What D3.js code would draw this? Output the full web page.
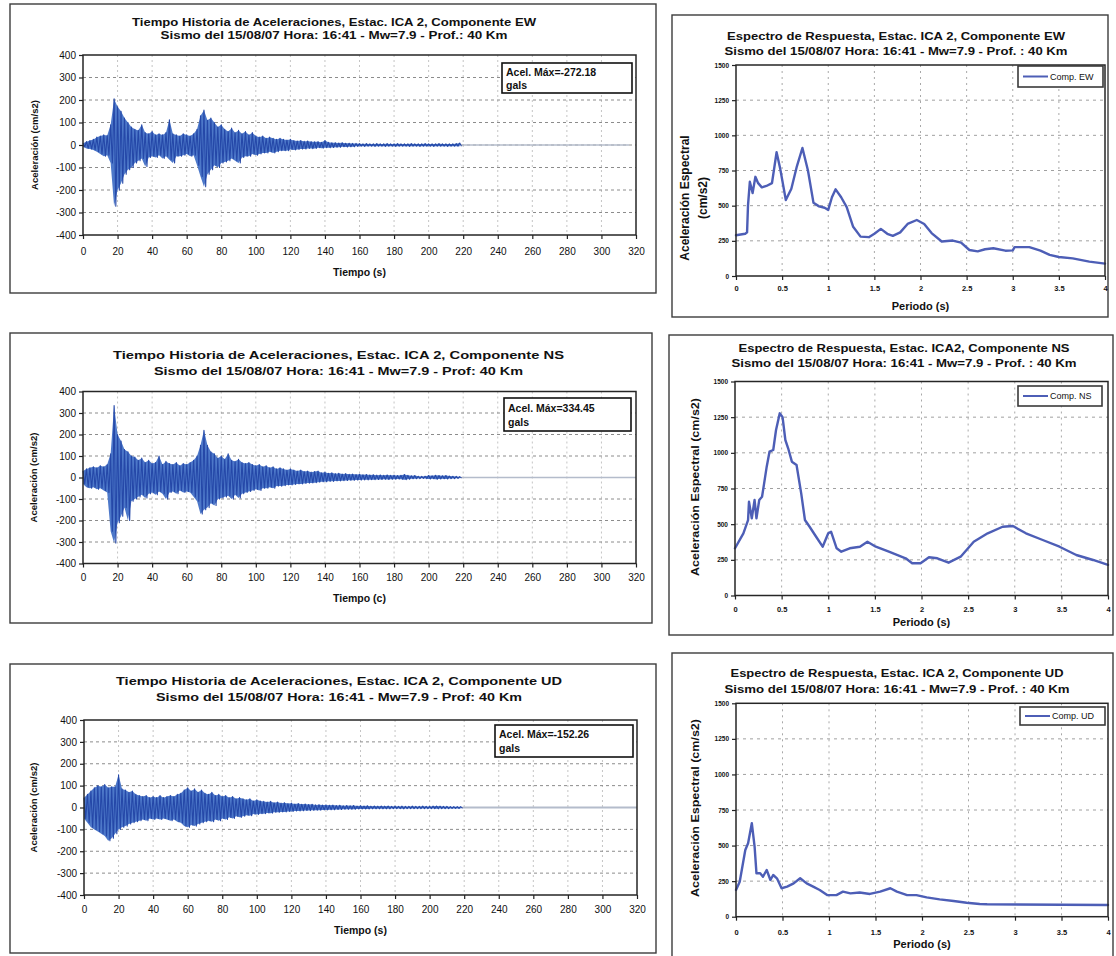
<!DOCTYPE html>
<html>
<head>
<meta charset="utf-8">
<script src="https://cdn.jsdelivr.net/npm/d3@7"></script>
<style>
  body { margin: 0; background: #fff; }
  svg { display: block; }
</style>
</head>
<body>
<svg id="chart" width="1116" height="956"></svg>
<script>
// ---------------- data ----------------
const components = ["EW", "NS", "UD"];

const thTitles = [
  "Tiempo Historia de Aceleraciones, Estac. ICA 2, Componente EW",
  "Tiempo Historia de Aceleraciones, Estac. ICA 2, Componente NS",
  "Tiempo Historia de Aceleraciones, Estac. ICA 2, Componente UD"
];
const thSubtitles = [
  "Sismo del 15/08/07 Hora: 16:41 - Mw=7.9 - Prof.: 40 Km",
  "Sismo del 15/08/07 Hora: 16:41 - Mw=7.9 - Prof: 40 Km",
  "Sismo del 15/08/07 Hora: 16:41 - Mw=7.9 - Prof: 40 Km"
];
const spTitles = [
  "Espectro de Respuesta, Estac. ICA 2, Componente EW",
  "Espectro de Respuesta, Estac. ICA2, Componente NS",
  "Espectro de Respuesta, Estac. ICA 2, Componente UD"
];
const spSubtitles = [
  "Sismo del 15/08/07 Hora: 16:41 - Mw=7.9 - Prof. : 40 Km",
  "Sismo del 15/08/07 Hora: 16:41 - Mw=7.9 - Prof. : 40 Km",
  "Sismo del 15/08/07 Hora: 16:41 - Mw=7.9 - Prof. : 40 Km"
];
const timeAxisTitles = ["Tiempo (s)", "Tiempo (c)", "Tiempo (s)"];
const accelAxisTitle = "Aceleración (cm/s2)";
const periodAxisTitle = "Periodo (s)";
const spectralAxisTitle = ["Aceleración Espectral", "(cm/s2)"];
const legendLabels = ["Comp. EW", "Comp. NS", "Comp. UD"];

// tick values
const timeTicks = [0, 20, 40, 60, 80, 100, 120, 140, 160, 180, 200, 220, 240, 260, 280, 300, 320];
const accelTicks = [-400, -300, -200, -100, 0, 100, 200, 300, 400];
const periodTicks = [0, 0.5, 1, 1.5, 2, 2.5, 3, 3.5, 4];
const spectralTicks = [0, 250, 500, 750, 1000, 1250, 1500];

// accelerograms: positive / negative peak per 2 s window (cm/s2)
const timeStep = 2;
const ewHigh = [
  8, 15, 20, 25, 35, 40, 45, 42, 90, 205,
  170, 150, 120, 100, 80, 70, 65, 90, 55, 50,
  60, 45, 50, 45, 55, 112, 50, 45, 40, 50,
  45, 40, 50, 70, 130, 155, 110, 120, 100, 80,
  90, 70, 60, 75, 55, 65, 50, 60, 45, 55,
  40, 35, 40, 30, 35, 30, 25, 30, 25, 22,
  25, 20, 18, 20, 16, 18, 15, 14, 15, 12,
  20, 12, 10, 10, 9, 10, 8, 8, 7, 7,
  6, 5, 6, 5, 5, 6, 5, 5, 6, 5,
  5, 6, 5, 5, 5, 6, 5, 5, 5, 6,
  5, 5, 5, 6, 5, 5, 5, 5, 6, 9
];
const ewLow = [
  -8, -15, -18, -22, -30, -40, -50, -45, -80, -272.18,
  -200, -170, -130, -110, -100, -80, -70, -60, -95, -55,
  -50, -55, -45, -60, -50, -65, -80, -50, -50, -45,
  -40, -50, -45, -90, -140, -185, -130, -110, -90, -100,
  -80, -75, -70, -60, -70, -80, -55, -50, -50, -40,
  -45, -40, -35, -35, -30, -35, -30, -25, -25, -25,
  -20, -22, -20, -18, -18, -15, -16, -15, -12, -14,
  -12, -12, -11, -10, -10, -8, -9, -8, -8, -6,
  -5, -6, -5, -5, -6, -5, -5, -6, -5, -5,
  -6, -5, -5, -5, -6, -5, -5, -6, -5, -5,
  -5, -6, -5, -5, -5, -6, -5, -5, -5, -6
];
const nsHigh = [
  30, 40, 45, 50, 45, 55, 50, 60, 110, 334.45,
  200, 170, 130, 120, 100, 95, 80, 90, 70, 80,
  65, 70, 100, 60, 75, 65, 60, 70, 55, 65,
  60, 70, 80, 100, 150, 220, 150, 120, 110, 90,
  100, 85, 110, 80, 75, 85, 70, 65, 70, 60,
  55, 60, 50, 55, 45, 50, 40, 45, 40, 35,
  40, 35, 30, 35, 28, 30, 25, 28, 30, 22,
  25, 20, 22, 18, 20, 16, 18, 15, 16, 14,
  15, 13, 14, 12, 13, 11, 12, 10, 12, 10,
  11, 9, 10, 14, 10, 8, 9, 6, 5, 6,
  9, 8, 10, 9, 8, 9, 7, 6, 5, 4
];
const nsLow = [
  -30, -45, -50, -45, -55, -50, -60, -70, -250, -305,
  -210, -180, -140, -200, -110, -100, -90, -80, -95, -75,
  -70, -80, -65, -75, -100, -70, -65, -75, -60, -70,
  -65, -70, -90, -110, -170, -150, -140, -120, -130, -100,
  -95, -90, -85, -100, -80, -95, -75, -70, -65, -60,
  -55, -60, -50, -50, -45, -50, -40, -40, -38, -35,
  -35, -32, -30, -30, -28, -26, -25, -24, -22, -20,
  -20, -18, -18, -16, -16, -15, -14, -13, -13, -12,
  -12, -11, -11, -10, -10, -9, -9, -8, -9, -8,
  -8, -7, -8, -10, -8, -6, -6, -5, -4, -5,
  -7, -6, -8, -7, -6, -7, -5, -5, -4, -3
];
const udHigh = [
  45, 60, 75, 90, 100, 95, 105, 90, 95, 95,
  150, 85, 80, 70, 75, 60, 55, 50, 55, 45,
  50, 45, 55, 45, 50, 55, 50, 60, 65, 80,
  90, 75, 85, 70, 80, 65, 60, 70, 55, 60,
  50, 55, 45, 50, 40, 45, 40, 35, 40, 30,
  35, 30, 28, 25, 28, 22, 25, 20, 22, 18,
  20, 16, 18, 15, 16, 14, 15, 12, 13, 11,
  12, 10, 11, 9, 10, 8, 9, 8, 9, 7,
  8, 7, 8, 6, 7, 6, 7, 6, 7, 5,
  6, 5, 6, 5, 5, 6, 5, 5, 6, 5,
  5, 6, 7, 6, 5, 5, 4, 4, 4, 4
];
const udLow = [
  -50, -70, -90, -100, -110, -120, -130, -152.26, -140, -120,
  -100, -90, -85, -75, -70, -65, -60, -55, -60, -50,
  -55, -50, -55, -50, -55, -60, -55, -65, -70, -85,
  -90, -80, -85, -75, -70, -65, -60, -65, -55, -60,
  -50, -55, -45, -50, -40, -45, -40, -35, -38, -30,
  -32, -28, -28, -25, -26, -22, -22, -20, -20, -18,
  -18, -16, -16, -15, -14, -14, -13, -12, -12, -11,
  -11, -10, -10, -9, -9, -8, -8, -8, -8, -7,
  -7, -7, -7, -6, -6, -6, -6, -6, -6, -5,
  -5, -5, -6, -5, -5, -5, -5, -5, -5, -5,
  -5, -5, -6, -5, -5, -5, -4, -4, -4, -4
];
// end of the quiet part of each record (s) and its amplitude (cm/s2)
const tailEnd = [316, 320, 320];
const tailAmp = [0.5, 0.5, 5];

// response spectra: period (s) and spectral acceleration (cm/s2)
const periodEW = [0, 0.05, 0.10, 0.12, 0.13, 0.15, 0.18, 0.21, 0.24, 0.28,
  0.33, 0.39, 0.44, 0.48, 0.54, 0.60, 0.66, 0.72, 0.78, 0.84,
  0.90, 0.96, 1.00, 1.04, 1.08, 1.14, 1.20, 1.27, 1.35, 1.44,
  1.50, 1.57, 1.64, 1.70, 1.78, 1.86, 1.96, 2.04, 2.12, 2.23,
  2.35, 2.44, 2.53, 2.62, 2.70, 2.79, 2.92, 3.00, 3.02, 3.18,
  3.30, 3.40, 3.50, 3.65, 3.83, 4.00];
const saEW = [290, 295, 300, 310, 500, 670, 590, 705, 660, 630,
  640, 660, 880, 760, 540, 620, 780, 910, 750, 520,
  495, 485, 470, 560, 616, 560, 490, 350, 280, 276,
  300, 335, 300, 285, 310, 370, 398, 370, 305, 245,
  252, 237, 185, 175, 190, 197, 180, 182, 205, 205,
  180, 150, 135, 125, 102, 88];
const periodNS = [0, 0.09, 0.14, 0.15, 0.18, 0.21, 0.23, 0.26, 0.29, 0.31,
  0.34, 0.37, 0.41, 0.44, 0.48, 0.51, 0.54, 0.57, 0.61, 0.66,
  0.71, 0.75, 0.80, 0.87, 0.94, 1.00, 1.03, 1.09, 1.14, 1.23,
  1.34, 1.42, 1.51, 1.65, 1.83, 1.90, 1.99, 2.08, 2.17, 2.29,
  2.42, 2.56, 2.71, 2.87, 2.98, 3.12, 3.30, 3.48, 3.66, 3.84, 4.00];
const saNS = [331, 436, 529, 657, 541, 669, 541, 669, 692, 775,
  903, 1008, 1020, 1160, 1277, 1250, 1090, 1032, 938, 915,
  716, 529, 482, 412, 342, 436, 447, 331, 307, 331,
  342, 377, 342, 307, 261, 226, 226, 268, 261, 230,
  272, 377, 436, 482, 487, 436, 389, 342, 284, 249, 215];
const periodUD = [0, 0.04, 0.10, 0.13, 0.17, 0.20, 0.22, 0.26, 0.29, 0.33,
  0.37, 0.40, 0.44, 0.49, 0.55, 0.62, 0.69, 0.76, 0.83, 0.90,
  0.98, 1.08, 1.15, 1.23, 1.33, 1.44, 1.55, 1.66, 1.73, 1.84,
  1.94, 2.05, 2.19, 2.34, 2.48, 2.62, 2.70, 4.00];
const saUD = [188, 246, 469, 516, 657, 492, 305, 305, 281, 328,
  258, 293, 270, 200, 211, 234, 270, 234, 211, 188,
  152, 152, 176, 164, 170, 160, 176, 200, 176, 152,
  152, 136, 122, 110, 98, 89, 87, 82];

const highs = [ewHigh, nsHigh, udHigh];
const lows = [ewLow, nsLow, udLow];
const periods = [periodEW, periodNS, periodUD];
const spectra = [saEW, saNS, saUD];

// ---------------- layout ----------------
const FONT = '"Liberation Sans", Arial, Helvetica, sans-serif';
const thLayout = [
  { frame: [10, 4, 656, 293], plot: [83, 636, 55, 235], titleX: 334, titleY: [22, 35], titleLen: [404, 347],
    xLabelY: 251, xTitleY: 272, yTitleX: 35, box: [502, 63, 130, 30] },
  { frame: [10, 333, 652, 623], plot: [83, 636, 391.5, 563.5], titleX: 338.5, titleY: [355, 371], titleLen: [451, 369],
    xLabelY: 577.5, xTitleY: 598, yTitleX: 34, box: [504, 398, 127, 33] },
  { frame: [10, 664, 656, 953], plot: [84, 637, 720, 895], titleX: 339, titleY: [681, 697], titleLen: [446, 366],
    xLabelY: 909, xTitleY: 930, yTitleX: 34, box: [495, 725, 138, 32] }
];
const spLayout = [
  { frame: [672, 15, 1108, 317], plot: [736, 1105, 65, 276], titleX: 896, titleY: [36, 51], titleLen: [338, 343],
    xLabelY: 288, xTitleY: 306, yTitleX: [685, 703], yTitleY: 198, legend: [1018, 66, 85, 21] },
  { frame: [669, 335, 1113, 635], plot: [735, 1108, 381.5, 595.5], titleX: 904, titleY: [348, 363], titleLen: [331, 345],
    xLabelY: 609, xTitleY: 622, yTitleX: [695], yTitleY: 487, legend: [1018, 386, 84, 20] },
  { frame: [672, 653, 1113, 962], plot: [736, 1108, 703.3, 916.7], titleX: 897, titleY: [673, 689], titleLen: [333, 345],
    xLabelY: 932, xTitleY: 944, yTitleX: [695], yTitleY: 808, legend: [1020, 707, 85, 18] }
];

const svg = d3.select("#chart");
svg.append("rect").attr("width", 1116).attr("height", 956).attr("fill", "#fff");

function drawFrame(L) {
  svg.append("rect")
    .attr("x", L.frame[0]).attr("y", L.frame[1])
    .attr("width", L.frame[2] - L.frame[0]).attr("height", L.frame[3] - L.frame[1])
    .attr("fill", "#fff").attr("stroke", "#3c3c3c").attr("stroke-width", 1.4);
}

function drawTitles(L, lines, size) {
  lines.forEach((s, i) => {
    svg.append("text")
      .attr("x", L.titleX).attr("y", L.titleY[i]).attr("dy", "0.35em")
      .attr("text-anchor", "middle")
      .attr("font-family", FONT).attr("font-weight", "bold").attr("font-size", size)
      .attr("textLength", L.titleLen[i]).attr("lengthAdjust", "spacingAndGlyphs")
      .attr("fill", "#111").text(s);
  });
}

function styleAxis(ax, size, weight) {
  ax.select(".domain").remove();
  ax.selectAll(".tick line").attr("stroke", "#222").attr("stroke-width", 1.2);
  ax.selectAll(".tick text")
    .attr("font-family", FONT).attr("font-size", size).attr("font-weight", weight).attr("fill", "#111");
}

// ---------------- acceleration time histories ----------------
function drawHistory(k) {
  const L = thLayout[k];
  const [l, r, t, b] = L.plot;
  drawFrame(L);
  drawTitles(L, [thTitles[k], thSubtitles[k]], 11);

  const x = d3.scaleLinear().domain(d3.extent(timeTicks)).range([l, r]);
  const y = d3.scaleLinear().domain(d3.extent(accelTicks)).range([b, t]);
  const g = svg.append("g");

  g.append("g").selectAll("line").data(timeTicks.slice(1, -1)).join("line")
    .attr("x1", d => x(d)).attr("x2", d => x(d)).attr("y1", t).attr("y2", b)
    .attr("stroke", "#c4c4c4").attr("stroke-width", 1).attr("stroke-dasharray", "2,3");
  g.append("g").selectAll("line").data(accelTicks.slice(1, -1)).join("line")
    .attr("x1", l).attr("x2", r).attr("y1", d => y(d)).attr("y2", d => y(d))
    .attr("stroke", "#8c8c8c").attr("stroke-width", 1).attr("stroke-dasharray", "3,3");

  const hi = highs[k], lo = lows[k];
  const lastT = (hi.length - 1) * timeStep + timeStep / 2;
  g.append("line")
    .attr("x1", x(lastT)).attr("x2", x(tailEnd[k])).attr("y1", y(0)).attr("y2", y(0))
    .attr("stroke", "#b4bccb")
    .attr("stroke-width", Math.max(1.3, y(-tailAmp[k]) - y(tailAmp[k])));

  // shaded band between the window peaks
  const bins = hi.map((h, i) => ({ t: i * timeStep, h, l: lo[i] }));
  g.append("path").datum(bins)
    .attr("d", d3.area().x(d => x(d.t)).y0(d => y(d.l)).y1(d => y(d.h)))
    .attr("fill", "#4d78c9");

  // oscillating trace through the peaks
  const pts = [];
  hi.forEach((h, i) => {
    pts.push([i * timeStep, h]);
    pts.push([i * timeStep + timeStep / 2, lo[i]]);
  });
  g.append("path").datum(pts)
    .attr("d", d3.line().x(d => x(d[0])).y(d => y(d[1])))
    .attr("fill", "none").attr("stroke", "#2548a8").attr("stroke-width", 1.1)
    .attr("stroke-linejoin", "round");

  g.append("rect").attr("x", l).attr("y", t).attr("width", r - l).attr("height", b - t)
    .attr("fill", "none").attr("stroke", "#262626").attr("stroke-width", 1.5);

  const fs = 10, tick = 4;
  const ax = g.append("g").attr("transform", `translate(0,${b})`)
    .call(d3.axisBottom(x).tickValues(timeTicks).tickFormat(d => String(d))
      .tickSize(tick).tickSizeOuter(0).tickPadding(L.xLabelY - b - 0.35 * fs - tick));
  styleAxis(ax, fs, "normal");
  const ay = g.append("g").attr("transform", `translate(${l},0)`)
    .call(d3.axisLeft(y).tickValues(accelTicks).tickFormat(d => String(d))
      .tickSize(tick).tickSizeOuter(0).tickPadding(3));
  styleAxis(ay, fs, "normal");

  g.append("text").attr("x", (l + r) / 2).attr("y", L.xTitleY).attr("dy", "0.35em")
    .attr("text-anchor", "middle").attr("font-family", FONT).attr("font-weight", "bold")
    .attr("font-size", 10.5).attr("fill", "#111").text(timeAxisTitles[k]);
  g.append("text")
    .attr("transform", `translate(${L.yTitleX},${(t + b) / 2}) rotate(-90)`).attr("dy", "0.35em")
    .attr("text-anchor", "middle").attr("font-family", FONT).attr("font-weight", "bold")
    .attr("font-size", 9.5).attr("fill", "#111").text(accelAxisTitle);

  // peak acceleration note, taken from the record itself
  const peak = hi.concat(lo).reduce((a, v) => Math.abs(v) > Math.abs(a) ? v : a, 0);
  const [bx, by, bw, bh] = L.box;
  g.append("rect").attr("x", bx).attr("y", by).attr("width", bw).attr("height", bh)
    .attr("fill", "#fff").attr("stroke", "#111").attr("stroke-width", 1.6);
  g.append("text").attr("x", bx + 4).attr("y", by + bh * 0.3).attr("dy", "0.35em")
    .attr("font-family", FONT).attr("font-weight", "bold").attr("font-size", 10.5).attr("fill", "#111")
    .text("Acel. Máx=" + peak.toFixed(2));
  g.append("text").attr("x", bx + 4).attr("y", by + bh * 0.74).attr("dy", "0.35em")
    .attr("font-family", FONT).attr("font-weight", "bold").attr("font-size", 10.5).attr("fill", "#111")
    .text("gals");
}

// ---------------- response spectra ----------------
function drawSpectrum(k) {
  const L = spLayout[k];
  const [l, r, t, b] = L.plot;
  drawFrame(L);
  drawTitles(L, [spTitles[k], spSubtitles[k]], 10);

  const x = d3.scaleLinear().domain(d3.extent(periodTicks)).range([l, r]);
  const y = d3.scaleLinear().domain(d3.extent(spectralTicks)).range([b, t]);
  const g = svg.append("g");

  g.append("g").selectAll("line").data(periodTicks.slice(1, -1)).join("line")
    .attr("x1", d => x(d)).attr("x2", d => x(d)).attr("y1", t).attr("y2", b)
    .attr("stroke", "#a8a8a8").attr("stroke-width", 1).attr("stroke-dasharray", "2,4");
  g.append("g").selectAll("line").data(spectralTicks.slice(1, -1)).join("line")
    .attr("x1", l).attr("x2", r).attr("y1", d => y(d)).attr("y2", d => y(d))
    .attr("stroke", "#a0a0a0").attr("stroke-width", 1).attr("stroke-dasharray", "3,4");

  const T = periods[k], S = spectra[k];
  g.append("path").datum(T.map((p, i) => [p, S[i]]))
    .attr("d", d3.line().x(d => x(d[0])).y(d => y(d[1])))
    .attr("fill", "none").attr("stroke", "#4d5eb6").attr("stroke-width", 2.4)
    .attr("stroke-linejoin", "round").attr("stroke-linecap", "round");

  g.append("rect").attr("x", l).attr("y", t).attr("width", r - l).attr("height", b - t)
    .attr("fill", "none").attr("stroke", "#262626").attr("stroke-width", 1.5);

  const fs = 7.5, tick = 4;
  const ax = g.append("g").attr("transform", `translate(0,${b})`)
    .call(d3.axisBottom(x).tickValues(periodTicks).tickFormat(d => String(d))
      .tickSize(tick).tickSizeOuter(0).tickPadding(L.xLabelY - b - 0.35 * fs - tick));
  styleAxis(ax, fs, "bold");
  const ay = g.append("g").attr("transform", `translate(${l},0)`)
    .call(d3.axisLeft(y).tickValues(spectralTicks).tickFormat(d => String(d))
      .tickSize(tick).tickSizeOuter(0).tickPadding(3));
  styleAxis(ay, 6.5, "bold");

  g.append("text").attr("x", (l + r) / 2).attr("y", L.xTitleY).attr("dy", "0.35em")
    .attr("text-anchor", "middle").attr("font-family", FONT).attr("font-weight", "bold")
    .attr("font-size", 11).attr("fill", "#111").text(periodAxisTitle);

  if (L.yTitleX.length === 2) {
    spectralAxisTitle.forEach((s, i) => {
      g.append("text")
        .attr("transform", `translate(${L.yTitleX[i]},${L.yTitleY}) rotate(-90)`).attr("dy", "0.35em")
        .attr("text-anchor", "middle").attr("font-family", FONT).attr("font-weight", "bold")
        .attr("font-size", 12).attr("fill", "#111").text(s);
    });
  } else {
    g.append("text")
      .attr("transform", `translate(${L.yTitleX[0]},${L.yTitleY}) rotate(-90)`).attr("dy", "0.35em")
      .attr("text-anchor", "middle").attr("font-family", FONT).attr("font-weight", "bold")
      .attr("font-size", 10).attr("textLength", 178).attr("lengthAdjust", "spacingAndGlyphs")
      .attr("fill", "#111").text(spectralAxisTitle.join(" "));
  }

  const [lx, ly, lw, lh] = L.legend;
  g.append("rect").attr("x", lx).attr("y", ly).attr("width", lw).attr("height", lh)
    .attr("fill", "#fff").attr("stroke", "#3a3a3a").attr("stroke-width", 1.6);
  g.append("line").attr("x1", lx + 5).attr("x2", lx + 30).attr("y1", ly + lh / 2).attr("y2", ly + lh / 2)
    .attr("stroke", "#4d5eb6").attr("stroke-width", 2);
  g.append("text").attr("x", lx + 32).attr("y", ly + lh / 2).attr("dy", "0.35em")
    .attr("font-family", FONT).attr("font-size", 9).attr("fill", "#111").text(legendLabels[k]);
}

components.forEach((c, k) => {
  drawHistory(k);
  drawSpectrum(k);
});
</script>
</body>
</html>
